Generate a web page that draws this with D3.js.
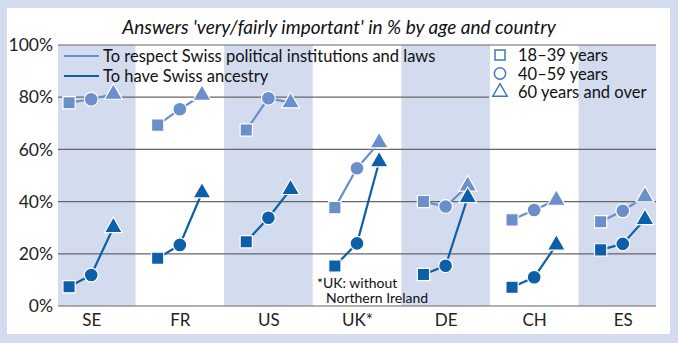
<!DOCTYPE html>
<html>
<head>
<meta charset="utf-8">
<script src="https://cdn.jsdelivr.net/npm/d3@7"></script>
<style>
  body { margin: 0; background: #d3dcee; }
  svg { display: block; font-family: Lato, "Open Sans", sans-serif; }
</style>
</head>
<body>
<svg id="chart" width="678" height="343"></svg>
<script>
// chart data
var countries = ["SE", "FR", "US", "UK*", "DE", "CH", "ES"];
var ageGroups = ["18\u201339 years", "40\u201359 years", "60 years and over"];
var seriesNames = ["To respect Swiss political institutions and laws", "To have Swiss ancestry"];
var respectValues = [
    [77.9, 79.2, 81.2],
    [69.3, 75.4, 80.8],
    [67.4, 79.6, 77.9],
    [37.7, 52.8, 62.6],
    [40.0, 38.1, 46.0],
    [33.0, 36.8, 40.6],
    [32.3, 36.5, 41.9]
];
var ancestryValues = [
    [7.4, 11.9, 30.1],
    [18.3, 23.4, 43.4],
    [24.6, 33.8, 44.7],
    [15.3, 24.0, 55.3],
    [12.1, 15.4, 41.6],
    [7.2, 11.0, 23.4],
    [21.5, 23.8, 33.2]
];
var yTicks = [0, 20, 40, 60, 80, 100];

var lightBlue = "#6b8fcb",
    darkBlue = "#0d5fa8",
    bandColor = "#d3dcee";

var svg = d3.select("#chart");

// white panel
svg.append("rect")
        .attr("x", 7).attr("y", 8)
        .attr("width", 663).attr("height", 326)
        .style("fill", "#fff");

svg.append("text")
        .attr("x", 339).attr("y", 34)
        .attr("text-anchor", "middle")
        .style("font-size", "19px")
        .style("font-style", "italic")
        .style("fill", "#111")
        .text("Answers 'very/fairly important' in % by age and country");

var plotLeft = 58, plotRight = 656, plotTop = 45, plotBottom = 306;

var x = d3.scaleLinear().domain([-0.375, countries.length - 0.625]).range([plotLeft, plotRight]);
var y = d3.scaleLinear().domain([0, 100]).range([plotBottom, plotTop]);
var step = x(1) - x(0);

// shaded columns
svg.append("g").selectAll("rect")
        .data(countries.filter(function(d, i) { return i % 2 === 0; }))
        .enter().append("rect")
        .attr("x", function(d) {
            var i = countries.indexOf(d);
            return Math.max(plotLeft, x(i) - step / 2);
        })
        .attr("width", function(d) {
            var i = countries.indexOf(d);
            return Math.min(plotRight, x(i) + step / 2) - Math.max(plotLeft, x(i) - step / 2);
        })
        .attr("y", plotTop)
        .attr("height", plotBottom - plotTop)
        .style("fill", bandColor);

// age legend box hides grid line behind it
var ageLegendX = 489;

// grid lines
svg.append("g").selectAll("line")
        .data(yTicks)
        .enter().append("line")
        .attr("x1", plotLeft)
        .attr("x2", function(d) { return d === 80 ? ageLegendX : plotRight; })
        .attr("y1", function(d) { return y(d); })
        .attr("y2", function(d) { return y(d); })
        .style("stroke", "#666")
        .style("stroke-width", "1.2px");

// y axis labels
var yAxis = d3.axisLeft(y).tickValues(yTicks).tickSize(0).tickPadding(5)
        .tickFormat(function(d) { return d + "%"; });
svg.append("g")
        .attr("transform", "translate(" + plotLeft + ",0)")
        .call(yAxis)
        .call(function(g) {
            g.select(".domain").remove();
            g.selectAll("text")
                    .style("font-family", "Lato, sans-serif")
                    .style("font-size", "17.5px")
                    .style("fill", "#222");
        });

// x axis labels
var xAxis = d3.axisBottom(x).tickValues(d3.range(countries.length)).tickSize(0).tickPadding(8)
        .tickFormat(function(d) { return countries[d]; });
svg.append("g")
        .attr("transform", "translate(0," + plotBottom + ")")
        .call(xAxis)
        .call(function(g) {
            g.select(".domain").remove();
            g.selectAll("text")
                    .style("font-family", "Lato, sans-serif")
                    .style("font-size", "17px")
                    .style("fill", "#222");
        });

// footnote
svg.append("text")
        .attr("x", 318).attr("y", 288)
        .style("font-size", "14px")
        .style("fill", "#111")
        .selectAll("tspan")
        .data(["*UK: without", "Northern Ireland"])
        .enter().append("tspan")
        .attr("x", function(d, i) { return i === 0 ? 317 : 326; })
        .attr("dy", function(d, i) { return i === 0 ? 0 : 15; })
        .text(function(d) { return d; });

var offsets = [-0.25, 0, 0.25];
var symbols = [d3.symbolSquare, d3.symbolCircle, d3.symbolTriangle];
var sizes = [150, 150, 140];

function drawSeries(values, color) {
    var g = svg.append("g");
    var line = d3.line()
            .x(function(d) { return x(d.i + d.o); })
            .y(function(d) { return y(d.v); });
    values.forEach(function(row, i) {
        var pts = row.map(function(v, k) { return {i: i, o: offsets[k], v: v, k: k}; });
        g.append("path")
                .attr("d", line(pts))
                .style("fill", "none")
                .style("stroke", color)
                .style("stroke-width", "2.2px");
        g.selectAll(null)
                .data(pts)
                .enter().append("path")
                .attr("transform", function(d) {
                    return "translate(" + x(d.i + d.o) + "," + y(d.v) + ")";
                })
                .attr("d", function(d) {
                    return d3.symbol().type(symbols[d.k]).size(sizes[d.k])();
                })
                .style("fill", color)
                .style("stroke", "#fff")
                .style("stroke-width", "1.2px");
    });
}

drawSeries(respectValues, lightBlue);
drawSeries(ancestryValues, darkBlue);

// series legend
var seriesColors = [lightBlue, darkBlue];
var sl = svg.append("g");
seriesNames.forEach(function(name, i) {
    var ly = 56 + i * 20;
    sl.append("line")
            .attr("x1", 64).attr("x2", 99)
            .attr("y1", ly).attr("y2", ly)
            .style("stroke", seriesColors[i])
            .style("stroke-width", "2px");
    sl.append("text")
            .attr("x", 103).attr("y", ly + 6)
            .style("font-size", "16.5px")
            .style("fill", "#111")
            .text(name);
});

// age legend
var al = svg.append("g");
ageGroups.forEach(function(name, i) {
    var ly = 55 + i * 18.5;
    al.append("path")
            .attr("transform", "translate(500," + ly + ")")
            .attr("d", d3.symbol().type(symbols[i]).size(i === 2 ? 90 : 100)())
            .style("fill", "none")
            .style("stroke", "#3b78c2")
            .style("stroke-width", "1.5px");
    al.append("text")
            .attr("x", 518).attr("y", ly + 6)
            .style("font-size", "16.5px")
            .style("fill", "#111")
            .text(name);
});
</script>
</body>
</html>
